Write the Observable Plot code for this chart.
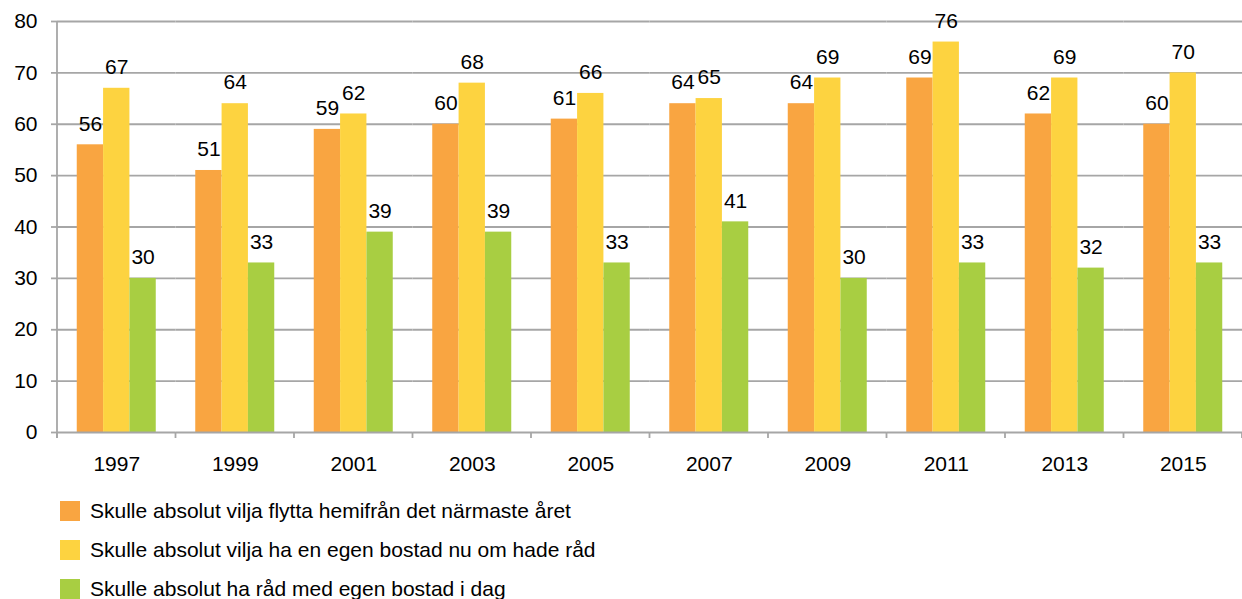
<!DOCTYPE html>
<html>
<head>
<meta charset="utf-8">
<script src="https://cdn.jsdelivr.net/npm/d3@7"></script>
<script src="https://cdn.jsdelivr.net/npm/@observablehq/plot@0.6"></script>
<style>
  body { margin: 0; background: #fff; font-family: "Liberation Sans", Arial, sans-serif; }
  #chart { position: relative; width: 1242px; height: 599px; overflow: hidden; background: #fff; }
  #chart svg { display: block; }
  .legend { position: absolute; left: 60px; top: 491px; }
  .item { display: flex; align-items: center; height: 39px; font-size: 21px; color: #000; }
  .sw { width: 20px; height: 20px; margin-right: 10px; flex: none; }
</style>
</head>
<body>
<div id="chart"></div>
<script>
// Survey years (x categories)
const years = ["1997", "1999", "2001", "2003", "2005", "2007", "2009", "2011", "2013", "2015"];

// Series names (legend text)
const seriesNames = [
  "Skulle absolut vilja flytta hemifrån det närmaste året",
  "Skulle absolut vilja ha en egen bostad nu om hade råd",
  "Skulle absolut ha råd med egen bostad i dag"
];

// Values per series, one per year
const flytta = [56, 51, 59, 60, 61, 64, 64, 69, 62, 60];
const egenBostad = [67, 64, 62, 68, 66, 65, 69, 76, 69, 70];
const harRad = [30, 33, 39, 39, 33, 41, 30, 33, 32, 33];

// Y axis ticks
const yTicks = [0, 10, 20, 30, 40, 50, 60, 70, 80];

const colors = ["#F9A541", "#FDD340", "#A8CE42"];
const gridColor = "#A6A6A6";

const seriesValues = [flytta, egenBostad, harRad];
const rows = years.flatMap((year, i) =>
  seriesNames.map((series, s) => ({ year, series, value: seriesValues[s][i] }))
);

const plot = Plot.plot({
  width: 1242,
  height: 480,
  marginLeft: 57,
  marginRight: 0,
  marginTop: 21,
  marginBottom: 48,
  style: { fontFamily: "'Liberation Sans', Arial, sans-serif", fontSize: "21px", color: "#000", background: "#fff" },
  fx: { domain: years, padding: 0, round: false, label: null, axis: "bottom", tickSize: 0, tickPadding: 24 },
  x: { domain: seriesNames, paddingInner: 0, paddingOuter: 0.75, round: false, axis: null },
  y: { domain: [0, 80], ticks: yTicks, label: null, tickSize: 6, tickPadding: 14 },
  color: { domain: seriesNames, range: colors },
  marks: [
    Plot.ruleY(yTicks.filter(t => t > 0), { stroke: gridColor, strokeWidth: 1.8 }),
    Plot.barY(rows, { fx: "year", x: "series", y: "value", fill: "series" }),
    Plot.ruleY([0], { stroke: gridColor, strokeWidth: 2 }),
    Plot.text(rows, { fx: "year", x: "series", y: "value", text: d => String(d.value), dy: -21, fontSize: 21, fill: "#000" })
  ]
});

// Axis decoration: gray y-axis line, gray ticks, and category boundary ticks
const svg = d3.select(plot);
svg.selectAll('g[aria-label="y-axis tick"] path, g[aria-label="y-axis"] path').attr("stroke", gridColor).attr("stroke-width", 1.8);
const fxScale = plot.scale("fx");
const yScale = plot.scale("y");
const y0 = yScale.apply(0);
const y80 = yScale.apply(80);
const bounds = years.map(y => fxScale.apply(y)).concat([fxScale.apply(years[years.length - 1]) + fxScale.bandwidth]);
const deco = svg.append("g").attr("stroke", gridColor).attr("stroke-width", 1.8);
deco.append("line").attr("x1", bounds[0]).attr("x2", bounds[0]).attr("y1", y80).attr("y2", y0 + 6);
bounds.forEach(b => {
  deco.append("line").attr("x1", b).attr("x2", b).attr("y1", y0).attr("y2", y0 + 6);
});

const chart = document.getElementById("chart");
chart.appendChild(plot);

// Legend
const legend = document.createElement("div");
legend.className = "legend";
seriesNames.forEach((name, i) => {
  const item = document.createElement("div");
  item.className = "item";
  const sw = document.createElement("span");
  sw.className = "sw";
  sw.style.background = colors[i];
  const label = document.createElement("span");
  label.textContent = name;
  item.appendChild(sw);
  item.appendChild(label);
  legend.appendChild(item);
});
chart.appendChild(legend);
</script>
</body>
</html>
